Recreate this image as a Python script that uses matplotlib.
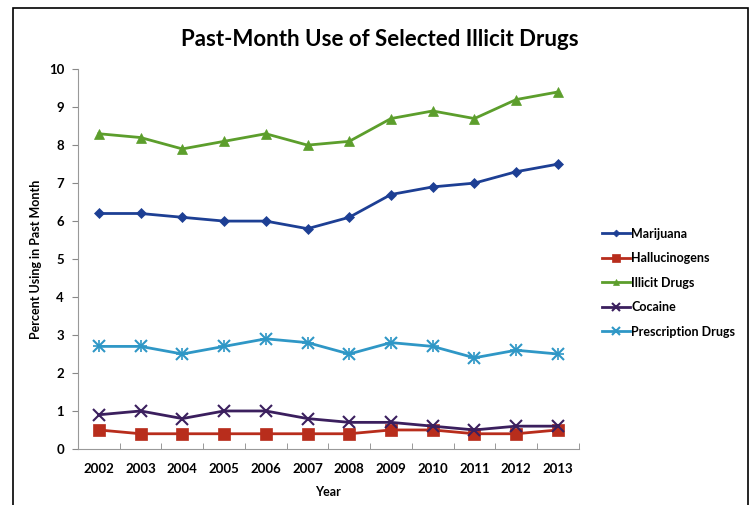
import matplotlib
matplotlib.use("Agg")
import matplotlib.pyplot as plt
from matplotlib.patches import Rectangle
import numpy as np

plt.rcParams['font.family'] = ['Lato', 'DejaVu Sans']

years = ["2002", "2003", "2004", "2005", "2006", "2007",
         "2008", "2009", "2010", "2011", "2012", "2013"]
marijuana = [6.2, 6.2, 6.1, 6.0, 6.0, 5.8, 6.1, 6.7, 6.9, 7.0, 7.3, 7.5]
hallucinogens = [0.5, 0.4, 0.4, 0.4, 0.4, 0.4, 0.4, 0.5, 0.5, 0.4, 0.4, 0.5]
illicit = [8.3, 8.2, 7.9, 8.1, 8.3, 8.0, 8.1, 8.7, 8.9, 8.7, 9.2, 9.4]
cocaine = [0.9, 1.0, 0.8, 1.0, 1.0, 0.8, 0.7, 0.7, 0.6, 0.5, 0.6, 0.6]
prescription = [2.7, 2.7, 2.5, 2.7, 2.9, 2.8, 2.5, 2.8, 2.7, 2.4, 2.6, 2.5]

series = [
    ("Marijuana", marijuana, "#1d3f94", "D", 5),
    ("Hallucinogens", hallucinogens, "#b82d1c", "s", 8),
    ("Illicit Drugs", illicit, "#5c9e2c", "^", 7),
    ("Cocaine", cocaine, "#3b1f5e", "x", 8),
    ("Prescription Drugs", prescription, "#2f97c6", "x", 8),
]

fig = plt.figure(figsize=(7.53, 5.05), dpi=100)
ax = fig.add_axes([0.1036, 0.111, 0.665, 0.752])

x = np.arange(len(years))
for name, vals, col, mk, ms in series:
    ax.plot(x, vals, color=col, lw=2, marker=mk, markersize=ms,
            markeredgewidth=1.5 if mk == "x" else 0.5, label=name)
# prescription uses a star-like marker: add a plus on top of the x
ax.plot(x, prescription, color="#2f97c6", lw=0, marker="+", markersize=8, markeredgewidth=1.2)

ax.set_xlim(-0.5, len(years) - 0.5)
ax.set_ylim(0, 10)
ax.set_yticks(range(0, 11))
ax.set_xticks(x)
ax.set_xticklabels(years)
ax.set_xticks(np.arange(-0.5, len(years)), minor=True)
ax.tick_params(axis="x", which="major", length=0, pad=10)
ax.tick_params(axis="x", which="minor", length=4, color="#888888", direction="in")
ax.tick_params(axis="y", length=4, color="#888888", pad=6)
for lbl in ax.get_xticklabels() + ax.get_yticklabels():
    lbl.set_fontweight("bold")
    lbl.set_fontsize(9.5)

for s in ["top", "right"]:
    ax.spines[s].set_visible(False)
for s in ["left", "bottom"]:
    ax.spines[s].set_color("#999999")

ax.set_xlabel("Year", fontsize=9, fontweight="bold", labelpad=8)
ax.set_ylabel("Percent Using in Past Month", fontsize=9, fontweight="bold", labelpad=5)

fig.text(0.505, 0.922, "Past-Month Use of Selected Illicit Drugs",
         ha="center", va="center", fontsize=16, fontweight="bold")

leg = fig.legend(loc="center left", bbox_to_anchor=(0.785, 0.44), frameon=False,
                 handlelength=2.2, handletextpad=0.1, labelspacing=1.0,
                 markerscale=0.7, prop={"weight": "bold", "size": 9})

fig.patches.append(Rectangle((13 / 753, -0.1), 735 / 753, 1.0842, transform=fig.transFigure,
                             fill=False, edgecolor="black", lw=1.2))

fig.savefig("out.png", dpi=100)
